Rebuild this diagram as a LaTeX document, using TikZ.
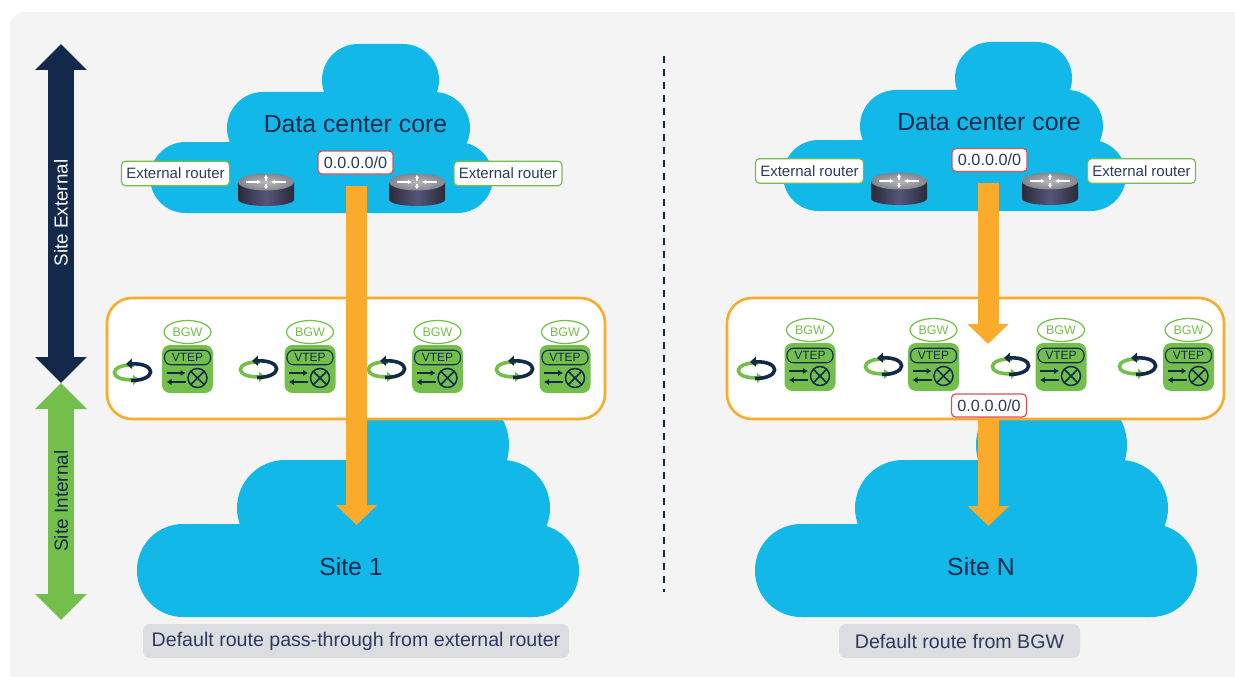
\documentclass[tikz,border=0pt]{standalone}
\usepackage{fontspec}
\setmainfont{Liberation Sans}
\usetikzlibrary{arrows.meta,shapes.geometric}
\definecolor{panelgray}{HTML}{F4F4F4}
\definecolor{cloudblue}{HTML}{12B8E8}
\definecolor{navy}{HTML}{13294B}
\definecolor{inktext}{HTML}{2B3A60}
\definecolor{leafgreen}{HTML}{74BF4B}
\definecolor{routeorange}{HTML}{FBAB2C}
\definecolor{flagred}{HTML}{D9525A}
\definecolor{capgray}{HTML}{DCDDE0}
\definecolor{routerdark}{HTML}{2A2A38}
\definecolor{routermid}{HTML}{55557A}
\definecolor{routertop}{HTML}{84848F}
\tikzset{
  bigtext/.style={text=navy,font=\fontsize{24.8}{26}\selectfont},
  routerlabel/.style={draw=leafgreen,line width=1.2pt,fill=white,rounded corners=4pt,text=inktext,
    font=\fontsize{15}{17}\selectfont,minimum width=108pt,minimum height=24.5pt,inner sep=0pt},
  prefixlabel/.style={draw=flagred,line width=1.2pt,fill=white,rounded corners=4pt,text=inktext,
    font=\fontsize{16.2}{17}\selectfont,minimum width=75pt,minimum height=23pt,inner sep=0pt},
  caption/.style={fill=capgray,rounded corners=7pt,text=inktext,font=\fontsize{19.6}{21}\selectfont,
    minimum height=34pt,inner sep=0pt},
  sitebar/.style={line width=26pt,-{Triangle[length=26pt,width=50pt]}},
  routearrow/.style={routeorange,line width=21pt,-{Triangle[length=20pt,width=40pt]}},
  sitebox/.style={draw=routeorange,line width=2.6pt,fill=white,rounded corners=25pt},
  corecloud/.pic={
    \fill[cloudblue,rounded corners=35.5pt] (0,98) rectangle (343,169);
    \fill[cloudblue,rounded corners=36pt] (77,48) rectangle (320,120);
    \fill[cloudblue,rounded corners=36pt] (172,0) rectangle (289,72);
  },
  sitecloud/.pic={
    \fill[cloudblue,rounded corners=46pt] (0,134) rectangle (442,227);
    \fill[cloudblue,rounded corners=48pt] (100,70) rectangle (413,166);
    \fill[cloudblue,rounded corners=55pt] (221,0) rectangle (372,110);
  },
  router/.pic={
    \path[left color=routerdark,right color=routerdark,middle color=routermid,draw=none]
      (-28,0) -- (-28,18) .. controls (-24,26) and (24,26) .. (28,18) -- (28,0) -- cycle;
    \path[inner color=black!28,outer color=routertop] (0,0) ellipse [x radius=28,y radius=8.5];
    \draw[white,line width=1.2pt,-{Latex[length=4pt,width=4.5pt]}] (-20,0) -- (-5,0);
    \draw[white,line width=1.2pt,-{Latex[length=4pt,width=4.5pt]}] (20,0) -- (5,0);
    \draw[white,line width=1.2pt,-{Latex[length=3.5pt,width=4.5pt]}] (0,-1.5) -- (0,-7.5);
    \draw[white,line width=1.2pt,-{Latex[length=3.5pt,width=4.5pt]}] (0,1.5) -- (0,7.5);
  },
  bgwicon/.pic={
    \node[draw=leafgreen,line width=1.2pt,fill=white,ellipse,minimum width=47pt,minimum height=23pt,inner sep=0pt,
      text=leafgreen,font=\fontsize{12.5}{14}\selectfont] (-role) at (0,-37) {BGW};
    \fill[leafgreen,rounded corners=8pt] (-25.5,-24) rectangle (25.5,24);
    \node[draw=navy,line width=1.1pt,rounded corners=6.5pt,minimum width=46pt,minimum height=14.5pt,inner sep=0pt,
      text=navy,font=\fontsize{12}{13}\selectfont] (-tunnel) at (0,-11.5) {VTEP};
    \draw[navy,line width=1.8pt,-{Latex[length=5pt,width=6.5pt]}] (-21,4) -- (-2,4);
    \draw[navy,line width=1.8pt,-{Latex[length=5pt,width=6.5pt]}] (-2,13) -- (-21,13);
    \draw[navy,line width=1.5pt] (10,9) circle (9.5);
    \draw[navy,line width=1.5pt] (3.3,2.3) -- (16.7,15.7);
    \draw[navy,line width=1.5pt] (3.3,15.7) -- (16.7,2.3);
  },
  loopicon/.pic={
    \draw[leafgreen,line width=3.6pt,-{Triangle[length=6pt,width=10pt]}] (2,-7) .. controls (-24,-8) and (-24,9) .. (7,7.5);
    \draw[navy,line width=3.6pt,-{Triangle[length=6pt,width=10pt]}] (-1,8.5) .. controls (25,8.5) and (25,-9) .. (-6,-8);
  }
}
\begin{document}
\begin{tikzpicture}[x=1pt,y=-1pt]
  \useasboundingbox (0,0) rectangle (1235,677);
  \fill[panelgray,rounded corners=14pt] (10,12) rectangle (1260,700);

  \coordinate (ext_tail) at (61,213);
  \coordinate (ext_up) at (61,44);
  \coordinate (ext_down) at (61,383);
  \coordinate (int_tail) at (61,501);
  \coordinate (int_up) at (61,383);
  \coordinate (int_down) at (61,620);
  \coordinate (div_top) at (664,56);
  \coordinate (div_bot) at (664,592);

  \draw[sitebar,navy] (ext_tail) -- (ext_up);
  \draw[sitebar,navy] (ext_tail) -- (ext_down);
  \draw[sitebar,leafgreen] (int_tail) -- (int_up);
  \draw[sitebar,leafgreen] (int_tail) -- (int_down);
  \node[rotate=90,text=white,font=\fontsize{18.8}{20}\selectfont] (extname) at (ext_tail) {Site External};
  \node[rotate=90,text=navy,font=\fontsize{19}{20}\selectfont] (intname) at (int_tail) {Site Internal};
  \draw[navy,line width=1.3pt,dash pattern=on 7pt off 6pt] (div_top) -- (div_bot);

  \pic (core1) at (150,44) {corecloud};
  \pic (core2) at (783,42) {corecloud};
  \pic (site1) at (137,390) {sitecloud};
  \pic (site2) at (755,390) {sitecloud};

  \node[bigtext] (core1name) at (355.5,124) {Data center core};
  \node[bigtext] (core2name) at (989,122) {Data center core};
  \node[bigtext] (site1name) at (351,567) {Site 1};
  \node[bigtext] (site2name) at (981,567) {Site N};

  \pic (r1) at (266,182) {router};
  \pic (r2) at (417,182) {router};
  \pic (r3) at (899,181) {router};
  \pic (r4) at (1050,181) {router};

  \node[routerlabel] (ext1) at (175.5,173.5) {External router};
  \node[routerlabel] (ext2) at (508,173.5) {External router};
  \node[routerlabel] (ext3) at (809.5,171) {External router};
  \node[routerlabel] (ext4) at (1141.5,171) {External router};

  \draw[sitebox] (107,298) rectangle (605,419);
  \draw[sitebox] (727,298) rectangle (1224,419);

  \pic (loop1) at (132,372) {loopicon};
  \pic (loop2) at (258,369) {loopicon};
  \pic (loop3) at (386,369) {loopicon};
  \pic (loop4) at (514,369) {loopicon};
  \pic (loop5) at (756,370) {loopicon};
  \pic (loop6) at (883,366) {loopicon};
  \pic (loop7) at (1010,366) {loopicon};
  \pic (loop8) at (1137,366) {loopicon};

  \pic (bgw1) at (187.5,369) {bgwicon};
  \pic (bgw2) at (310,369) {bgwicon};
  \pic (bgw3) at (437.5,369) {bgwicon};
  \pic (bgw4) at (565,369) {bgwicon};
  \pic (bgw5) at (810,367) {bgwicon};
  \pic (bgw6) at (933.5,367) {bgwicon};
  \pic (bgw7) at (1061,367) {bgwicon};
  \pic (bgw8) at (1188.5,367) {bgwicon};

  \node[prefixlabel] (pfx1) at (355.5,162.5) {0.0.0.0/0};
  \node[prefixlabel] (pfx2) at (989.5,160) {0.0.0.0/0};
  \coordinate (a1) at (356.5,186);
  \coordinate (a2) at (356.5,525);
  \coordinate (b1) at (988,183);
  \coordinate (b2) at (988,344);
  \coordinate (c1) at (988.5,417);
  \coordinate (c2) at (988.5,526);
  \draw[routearrow] (a1) -- (a2);
  \draw[routearrow] (b1) -- (b2);
  \draw[routearrow] (c1) -- (c2);
  \node[prefixlabel] (pfx3) at (989,405.5) {0.0.0.0/0};

  \node[caption,minimum width=426pt] (cap1) at (356,641) {Default route pass-through from external router};
  \node[caption,minimum width=241pt] (cap2) at (959.5,641) {Default route from BGW};
\end{tikzpicture}
\end{document}
